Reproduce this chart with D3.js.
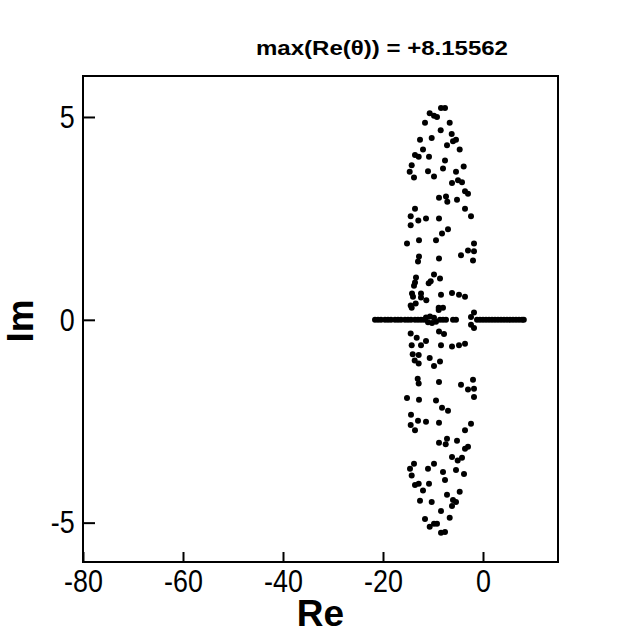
<!DOCTYPE html>
<html><head><meta charset="utf-8">
<script src="https://cdn.jsdelivr.net/npm/d3@7"></script>
<style>
body{margin:0;background:#fff;}
svg{display:block;}
.tick text{font-family:"Liberation Sans",Arial,sans-serif;}
</style></head>
<body>
<svg id="chart" width="634" height="634"></svg>
<script>
// Eigenvalue data (Re, Im)
const titleText = "max(Re(\u03B8)) = +8.15562";
const xTicks = [-80, -60, -40, -20, 0];
const yTicks = [-5, 0, 5];

const upperRe = [-8.4,-7.6,-10.66,-9.8,-9.2,-11.6,-6.66,-8.46,-6.26,-12.6,-10.26,-5.4,-6.0,-7.2,-12.0,-4.66,-13.6,-12.86,-10.8,-7.6,-14.26,-3.86,-14.66,-11.0,-8.0,-5.4,-13.8,-9.8,-6.2,-5.0,-4.2,-3.6,-3.0,-8.8,-7.4,-7.14,-5.2,-13.6,-3.6,-14.46,-12.94,-11.4,-8.8,-2.4,-14.46,-7.0,-8.2,-15.2,-12.8,-9.4,-1.8,-3.0,-1.8,-4.4,-12.8,-13.0,-8.8,-2.0,-9.8,-13.4,-13.6,-13.8,-8.6,-10.46,-10.86,-14.2,-12.4,-8.4,-6.2,-4.8,-3.6,-14.0,-12.4,-11.34,-14.46,-13.46,-8.86,-8.0,-8.86,-14.26,-1.8,-2.4];
const upperIm = [5.22,5.22,5.09,5.03,5.00,4.86,4.86,4.67,4.58,4.44,4.48,4.44,4.40,4.30,4.20,4.20,4.06,4.02,4.02,3.93,3.81,3.78,3.65,3.66,3.73,3.65,3.51,3.53,3.37,3.44,3.39,3.17,3.11,3.01,3.04,2.91,2.96,2.74,2.74,2.55,2.45,2.50,2.50,2.55,2.33,2.23,2.13,1.88,1.96,1.96,1.88,1.71,1.69,1.59,1.56,1.44,1.51,1.46,1.12,1.04,0.92,0.84,1.02,0.95,0.90,0.65,0.65,0.62,0.66,0.62,0.57,0.57,0.55,0.48,0.35,0.40,0.30,0.30,0.24,0.30,0.18,0.07];

const lowerRe = [-14.46,-13.26,-8.8,-7.8,-11.4,-14.26,-12.4,-8.4,-6.2,-4.8,-3.6,-14.06,-12.86,-13.66,-12.86,-10.66,-9.8,-8.6,-13.06,-12.86,-8.8,-4.4,-2.0,-3.0,-1.8,-15.2,-12.8,-9.4,-1.8,-8.2,-7.0,-14.4,-14.46,-13.0,-11.4,-8.8,-2.4,-13.6,-3.6,-8.8,-7.2,-7.46,-5.2,-3.6,-3.0,-6.2,-4.2,-5.06,-13.8,-14.6,-9.8,-11.0,-8.0,-5.4,-3.8,-14.26,-7.6,-13.6,-12.86,-10.8,-12.0,-7.2,-4.66,-12.6,-10.26,-6.0,-5.4,-6.2,-8.4,-11.6,-6.66,-10.66,-9.8,-9.2,-8.4,-7.6,-1.8,-2.4];
const lowerIm = [-0.34,-0.44,-0.29,-0.35,-0.52,-0.63,-0.63,-0.63,-0.66,-0.63,-0.59,-0.85,-0.87,-1.00,-1.08,-0.94,-1.14,-1.03,-1.45,-1.57,-1.53,-1.60,-1.48,-1.72,-1.70,-1.93,-1.97,-1.99,-1.90,-2.17,-2.24,-2.34,-2.59,-2.49,-2.51,-2.54,-2.56,-2.72,-2.72,-3.03,-2.93,-3.07,-2.98,-3.18,-3.13,-3.38,-3.40,-3.47,-3.55,-3.67,-3.55,-3.67,-3.75,-3.70,-3.80,-3.84,-3.95,-4.07,-4.04,-4.04,-4.21,-4.31,-4.24,-4.46,-4.49,-4.44,-4.49,-4.59,-4.71,-4.91,-4.88,-5.10,-5.03,-5.03,-5.25,-5.23,-0.2,-0.12];

const axisRe = [-21.6,-21.0,-20.4,-19.6,-19.0,-18.4,-17.6,-17.0,-16.4,-15.6,-15.0,-14.4,-13.6,-13.0,-12.4,-11.8,-11.4,-11.0,-10.6,-10.2,-9.8,-9.4,-8.6,-8.0,-7.4,-6.0,-5.4,-1.2,-0.6,0.0,0.6,1.2,1.8,2.4,3.0,3.6,4.2,4.8,5.4,6.0,6.6,7.2,7.8,8.16];
const axisIm = [0,0,0,0,0,0,0,0,0,0,0,0,0,0,0,0,0.06,-0.06,0.08,-0.08,0.05,-0.05,0,0,0,0,0,0,0,0,0,0,0,0,0,0,0,0,0,0,0,0,0,0];

const pts = [];
upperRe.forEach((r,i)=>pts.push([r, upperIm[i]]));
lowerRe.forEach((r,i)=>pts.push([r, lowerIm[i]]));
axisRe.forEach((r,i)=>pts.push([r, axisIm[i]]));

const svg = d3.select("#chart");
const L = 83, R = 558, T = 76, B = 562;
const x = d3.scaleLinear().domain([-80, 15]).range([L, R]);
const y = d3.scaleLinear().domain([-5.97, 6.01]).range([B, T]);

// frame
svg.append("rect").attr("x", L).attr("y", T).attr("width", R-L).attr("height", B-T)
  .attr("fill","none").attr("stroke","#000").attr("stroke-width",2);

const fmt = d => String(d); // plain hyphen-minus like the reference

// x axis (ticks pointing inward)
const gx = svg.append("g").attr("transform",`translate(0,${B})`)
  .call(d3.axisBottom(x).tickValues(xTicks).tickSizeInner(-10).tickSizeOuter(0).tickPadding(8).tickFormat(fmt));
gx.select(".domain").remove();
gx.selectAll(".tick line").attr("stroke","#000").attr("stroke-width",2);
gx.selectAll(".tick text").attr("font-size",32).attr("fill","#000").attr("dy","0.75em").attr("y",6)
  .attr("transform","scale(0.84,1)");

const gy = svg.append("g").attr("transform",`translate(${L},0)`)
  .call(d3.axisLeft(y).tickValues(yTicks).tickSizeInner(-12).tickSizeOuter(0).tickPadding(8).tickFormat(fmt));
gy.select(".domain").remove();
gy.selectAll(".tick line").attr("stroke","#000").attr("stroke-width",2);
gy.selectAll(".tick text").attr("font-size",32).attr("fill","#000").attr("x",-10)
  .attr("transform","scale(0.84,1)");

// points
svg.append("g").selectAll("circle").data(pts).join("circle")
  .attr("cx", d=>x(d[0])).attr("cy", d=>y(d[1])).attr("r", 3).attr("fill","#000");

// titles
svg.append("text").attr("x", 382).attr("y", 55).attr("text-anchor","middle")
  .attr("font-family","Liberation Sans, Arial, sans-serif").attr("font-weight","bold")
  .attr("font-size",20).attr("textLength",252).attr("lengthAdjust","spacingAndGlyphs").text(titleText);
svg.append("text").attr("x", (L+R)/2).attr("y", 626).attr("text-anchor","middle")
  .attr("font-family","Liberation Sans, Arial, sans-serif").attr("font-weight","bold")
  .attr("font-size",37).text("Re");
svg.append("text").attr("transform","translate(33,321) rotate(-90)").attr("text-anchor","middle")
  .attr("font-family","Liberation Sans, Arial, sans-serif").attr("font-weight","bold")
  .attr("font-size",37).text("Im");
</script>
</body></html>
